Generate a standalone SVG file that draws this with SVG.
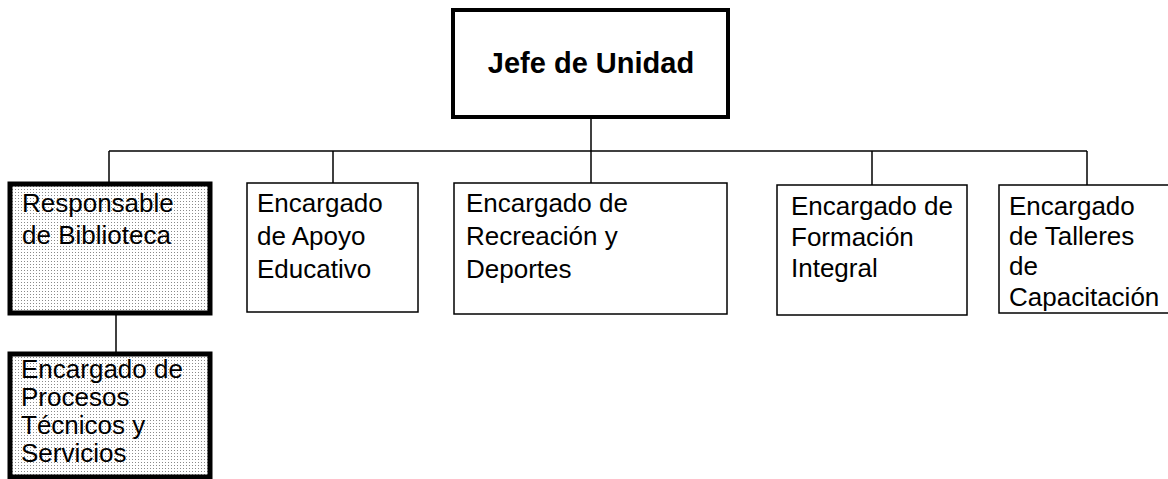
<svg xmlns="http://www.w3.org/2000/svg" width="1168" height="479" viewBox="0 0 1168 479">
<defs>
<pattern id="dots" width="3" height="3" patternUnits="userSpaceOnUse">
<rect width="3" height="3" fill="#fff"/>
<rect width="1" height="1" fill="#8a8a8a"/>
</pattern>
<style>
text{font-family:"Liberation Sans",Arial,sans-serif;font-size:26px;fill:#000}
.title{font-weight:bold;font-size:29px}
.box{fill:#fff;stroke:#000;stroke-width:1.5}
.thick{fill:url(#dots);stroke:#000;stroke-width:5}
.head{fill:#fff;stroke:#000;stroke-width:4}
.con{stroke:#000;stroke-width:1.5;fill:none}
</style>
</defs>
<rect width="1168" height="479" fill="#fff"/>
<g id="connectors">
<line class="con" x1="109" y1="151" x2="1087" y2="151"/>
<line class="con" x1="591" y1="117" x2="591" y2="183"/>
<line class="con" x1="109" y1="151" x2="109" y2="184"/>
<line class="con" x1="333" y1="151" x2="333" y2="183"/>
<line class="con" x1="872" y1="151" x2="872" y2="185"/>
<line class="con" x1="1087" y1="151" x2="1087" y2="185"/>
<line class="con" x1="116" y1="313" x2="116" y2="354"/>
</g>
<g id="jefe">
<rect class="head" x="453" y="10" width="275" height="107"/>
<text class="title" x="591" y="73" text-anchor="middle">Jefe de Unidad</text>
</g>
<g id="biblioteca">
<rect class="thick" x="10" y="184" width="200" height="129"/>
<text x="22" y="212">Responsable</text>
<text x="22" y="244">de Biblioteca</text>
</g>
<g id="procesos">
<rect class="thick" x="10" y="354" width="200" height="123"/>
<text x="21" y="378">Encargado de</text>
<text x="21" y="406">Procesos</text>
<text x="21" y="434">Técnicos y</text>
<text x="21" y="462">Servicios</text>
</g>
<g id="apoyo">
<rect class="box" x="247" y="183" width="171" height="129"/>
<text x="257" y="212">Encargado</text>
<text x="257" y="245">de Apoyo</text>
<text x="257" y="278">Educativo</text>
</g>
<g id="recreacion">
<rect class="box" x="454" y="183" width="273" height="131"/>
<text x="466" y="212">Encargado de</text>
<text x="466" y="245">Recreación y</text>
<text x="466" y="278">Deportes</text>
</g>
<g id="formacion">
<rect class="box" x="777" y="185" width="190" height="130"/>
<text x="791" y="215">Encargado de</text>
<text x="791" y="246">Formación</text>
<text x="791" y="277">Integral</text>
</g>
<g id="talleres">
<rect class="box" x="999" y="185" width="175" height="128"/>
<text x="1009" y="215">Encargado</text>
<text x="1009" y="245">de Talleres</text>
<text x="1009" y="275">de</text>
<text x="1009" y="306">Capacitación</text>
</g>
</svg>
